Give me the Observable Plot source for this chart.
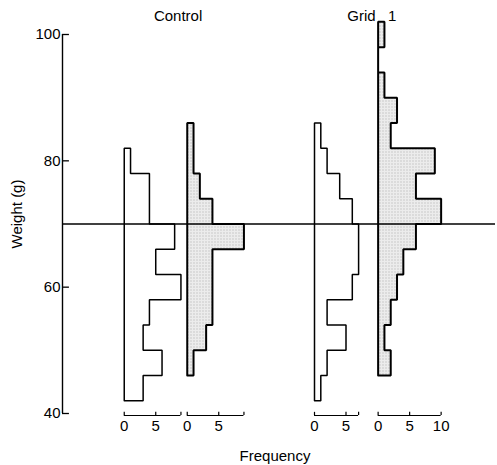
<!DOCTYPE html>
<html>
<head>
<meta charset="utf-8">
<script src="https://cdn.jsdelivr.net/npm/d3@7"></script>
<script src="https://cdn.jsdelivr.net/npm/@observablehq/plot@0.6"></script>
<style>
  html, body { margin: 0; padding: 0; background: #fff; }
  #chart { width: 497px; height: 465px; }
  svg text { font-family: "Liberation Sans", Arial, sans-serif; }
</style>
</head>
<body>
<div id="chart"></div>
<script>
// ---- data ----
const weightBins = [42, 46, 50, 54, 58, 62, 66, 70, 74, 78, 82, 86, 90, 94, 98]; // lower bin edges (g)
const binWidth = 4;
const groups = ["Control", "Grid\u00a0\u00a0\u00a01"];
const controlOpen   = [3, 6, 3, 4, 9, 5, 8, 4, 4, 1, 0, 0, 0, 0, 0];
const controlShaded = [0, 1, 3, 4, 4, 4, 9, 4, 2, 1, 1, 0, 0, 0, 0];
const gridOpen      = [1, 2, 5, 2, 6, 7, 7, 6, 4, 2, 1, 0, 0, 0, 0];
const gridShaded    = [0, 2, 1, 2, 3, 4, 6, 10, 6, 9, 2, 3, 1, 0, 1];
const yTicks = [40, 60, 80, 100];
const freqTicks = [0, 5, 10];
const thresholdWeight = 70;

// ---- layout (frequency units along the shared x scale) ----
const unitPx = 6.3;
const W = 497, H = 465, mL = 62, mR = 2, mT = 34, mB = 52;
const panels = [
  {group: groups[0], shaded: false, counts: controlOpen,   offset: 9.8},
  {group: groups[0], shaded: true,  counts: controlShaded, offset: 19.8},
  {group: groups[1], shaded: false, counts: gridOpen,      offset: 40.0},
  {group: groups[1], shaded: true,  counts: gridShaded,    offset: 50.1}
];
panels.forEach((p, k) => { p.id = k; p.max = d3.max(p.counts); });

function outline(p) {
  const nz = p.counts.map((c, i) => c > 0 ? i : -1).filter(i => i >= 0);
  const first = nz[0], last = nz[nz.length - 1];
  const pts = [{id: p.id, x: p.offset, y: weightBins[first]}];
  for (let i = first; i <= last; i++) {
    pts.push({id: p.id, x: p.offset + p.counts[i], y: weightBins[i]});
    pts.push({id: p.id, x: p.offset + p.counts[i], y: weightBins[i] + binWidth});
  }
  pts.push({id: p.id, x: p.offset, y: weightBins[last] + binWidth});
  pts.push({id: p.id, x: p.offset, y: weightBins[first]});
  return pts;
}
const openPts = panels.filter(p => !p.shaded).flatMap(outline);
const shadedPts = panels.filter(p => p.shaded).flatMap(outline);

const axisLines = panels.map(p => ({x1: p.offset, x2: p.offset + p.max}));
const axisTicks = panels.flatMap(p =>
  [...freqTicks.filter(t => t < p.max), p.max].map(t => ({x: p.offset + t})));
const axisLabels = panels.flatMap(p =>
  freqTicks.filter(t => t <= p.max).map(t => ({x: p.offset + t, label: String(t)})));
const titles = groups.map(g => {
  const ps = panels.filter(p => p.group === g);
  return {x: (ps[0].offset + ps[ps.length - 1].offset + ps[ps.length - 1].max) / 2, label: g};
});

const chart = Plot.plot({
  width: W, height: H,
  marginLeft: mL, marginRight: mR, marginTop: mT, marginBottom: mB,
  x: {domain: [0, (W - mL - mR) / unitPx], axis: null},
  y: {domain: [40, 100], axis: null},
  style: {fontFamily: "Liberation Sans, Arial, sans-serif", background: "#fff"},
  marks: [
    // stippled fills
    Plot.line(shadedPts, {x: "x", y: "y", z: "id", fill: "url(#stipple)", stroke: "none", curve: "linear"}),
    // y axis
    Plot.ruleX([0], {y1: 40, y2: 100, stroke: "#000", strokeWidth: 1.4}),
    Plot.ruleY(yTicks, {x1: 0, x2: 1.1, stroke: "#000", strokeWidth: 1.3}),
    Plot.axisY({ticks: yTicks, tickSize: 0, tickPadding: 2, label: null, fontSize: 15, fill: "#000"}),
    Plot.text(["Weight (g)"], {frameAnchor: "left", textAnchor: "middle", rotate: -90, dx: -45, dy: -10, fontSize: 15, fill: "#000", letterSpacing: 2.5}),
    // threshold line
    Plot.ruleY([thresholdWeight], {stroke: "#000", strokeWidth: 1.3}),
    // histogram outlines
    Plot.line(openPts, {x: "x", y: "y", z: "id", stroke: "#000", strokeWidth: 1.5, curve: "linear", strokeLinejoin: "miter"}),
    Plot.line(shadedPts, {x: "x", y: "y", z: "id", stroke: "#000", strokeWidth: 2, curve: "linear", strokeLinejoin: "miter"}),
    // per-panel frequency axes
    Plot.ruleY(axisLines, {x1: "x1", x2: "x2", y: 40, dy: 2, stroke: "#000", strokeWidth: 1.2}),
    Plot.ruleX(axisTicks, {x: "x", y1: 40, y2: 40.5, dy: 2, stroke: "#000", strokeWidth: 1.2}),
    Plot.text(axisLabels, {x: "x", text: "label", frameAnchor: "bottom", dy: 13, fontSize: 15, fill: "#000", lineAnchor: "middle"}),
    Plot.text(["Frequency"], {frameAnchor: "bottom", dx: -4, dy: 43, fontSize: 15, fill: "#000", letterSpacing: 1.8, lineAnchor: "middle"}),
    // titles
    Plot.text(titles, {x: "x", text: "label", frameAnchor: "top", dx: -6, dy: -18, fontSize: 15, fill: "#000", letterSpacing: 1.2, lineAnchor: "middle"})
  ]
});

// stipple pattern definition
const ns = "http://www.w3.org/2000/svg";
const defs = document.createElementNS(ns, "defs");
const pat = document.createElementNS(ns, "pattern");
pat.setAttribute("id", "stipple");
pat.setAttribute("width", "3");
pat.setAttribute("height", "3");
pat.setAttribute("patternUnits", "userSpaceOnUse");
const bg = document.createElementNS(ns, "rect");
bg.setAttribute("width", "3"); bg.setAttribute("height", "3"); bg.setAttribute("fill", "#ececec");
const dot = document.createElementNS(ns, "rect");
dot.setAttribute("x", "1"); dot.setAttribute("y", "1"); dot.setAttribute("width", "1"); dot.setAttribute("height", "1"); dot.setAttribute("fill", "#a8a8a8");
pat.appendChild(bg); pat.appendChild(dot);
defs.appendChild(pat);
chart.insertBefore(defs, chart.firstChild);

document.getElementById("chart").appendChild(chart);
</script>
</body>
</html>
